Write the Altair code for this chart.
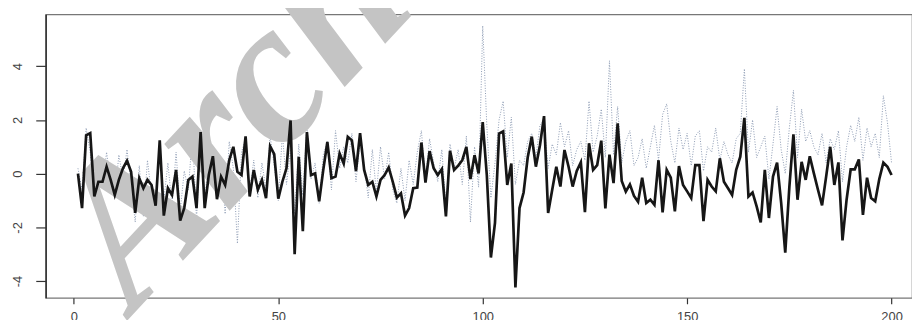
import altair as alt
import pandas as pd

t = list(range(1, 201))

series_a = [
    0.0, -1.28, 1.43, 1.51, -0.85, -0.3, -0.3, 0.26, -0.23, -0.79,
    -0.23, 0.2, 0.48, 0.07, -1.46, -0.17, -0.54, -0.23, -0.42, -1.19,
    1.24, -1.56, -0.54, -0.79, 0.14, -1.75, -1.28, -0.23, -0.11, -1.28,
    1.55, -1.28, -0.05, 0.65, -0.95, -0.11, -0.42, 0.5, 1.0, 0.07,
    -0.05, 1.39, -0.85, 0.14, -0.6, -0.23, -0.91, 1.02, 0.73, -0.93,
    -0.3, 0.2, 1.98, -3.0, 0.63, -2.14, 1.55, -0.05, 0.01, -1.03,
    0.14, 1.18, -0.17, -0.11, 0.75, 0.38, 1.37, 1.24, 0.1, 1.51,
    0.14, -0.42, -0.3, -0.85, -0.23, -0.05, 0.23, -0.3, -0.89, -0.73,
    -1.56, -1.28, -0.54, -0.52, 1.16, -0.33, 0.84, 0.2, -0.05, 0.17,
    -1.59, 0.85, 0.14, 0.3, 0.5, 1.0, -0.2, 0.69, 0.01, 1.92,
    -0.05, -3.12, -1.83, 1.49, 1.57, -0.42, 0.38, -4.23, -1.28, -0.7,
    0.6, 1.38, 0.26, 1.06, 2.14, -1.46, -0.6, 0.26, -0.48, 0.88,
    0.26, -0.48, 0.1, 0.42, -1.43, 1.13, 0.14, 0.32, 1.23, -1.29,
    0.71, -0.35, 1.87, -0.27, -0.67, -0.4, -0.83, -1.05, -0.15, -1.09,
    -0.97, -1.16, 0.5, -1.44, 0.14, -0.15, -1.4, 0.28, -0.42, -0.66,
    -0.91, 0.32, 0.32, -1.77, -0.23, -0.48, -0.66, 0.57, -0.3, -0.54,
    -0.79, 0.14, 0.63, 2.08, -0.85, -0.7, -1.22, -1.81, 0.14, -1.65,
    -0.11, 0.41, -1.09, -2.94, -0.5, 1.46, -0.97, 0.44, -0.23, 0.65,
    0.01, -0.6, -1.18, -0.11, 1.0, -0.42, 0.42, -2.48, -0.97, 0.16,
    0.16, 0.53, -1.53, -0.15, -0.91, -1.03, -0.2, 0.41, 0.26, -0.05,
]

series_b = [
    0.2, -0.6, 1.7, 0.8, -0.9, 0.6, -0.5, 0.8, -0.3, -0.9,
    0.7, -0.2, 0.9, -0.4, -1.8, 0.3, -1.6, 0.5, -0.8, -1.2,
    1.0, -1.0, 0.4, -1.2, 0.8, -1.4, 0.1, -0.6, 1.5, -1.7,
    1.3, -1.0, 0.6, 0.9, -0.8, 0.5, -1.5, 1.2, 0.2, -2.6,
    0.8, 1.3, -0.7, 0.5, -0.9, 0.4, -0.6, 1.4, 0.3, -1.0,
    1.5, -0.4, 0.9, -1.5, 1.1, -0.8, 1.8, -0.2, 0.4, -1.1,
    0.7, 1.2, -0.6, 1.6, 0.2, 1.0, 0.4, 1.5, -0.3, 1.2,
    0.3, -0.9, 0.9, -0.7, 1.0, -0.2, 0.8, -0.6, -1.1, 0.2,
    -1.0, 0.5, -0.4, 0.8, 1.6, -0.2, 1.3, 0.4, -0.3, 0.9,
    -1.2, 1.1, 0.2, 0.9, -0.4, 1.4, -1.8, 1.0, -0.5, 5.5,
    1.8, -0.9, 0.4, 2.0, 2.7, 0.6, 2.1, -0.4, 0.5, 0.3,
    1.2, 1.5, 0.6, 1.8, 2.0, 0.2, 1.1, 0.7, 1.9, 1.0,
    1.6, 0.3, 0.9, 1.2, 0.5, 2.7, 0.8, 1.4, 2.4, 0.6,
    4.2, 0.7, 2.5, 0.4, 1.2, 1.6, 0.3, 0.6, 1.3, 0.2,
    1.0, 1.8, 0.5, 2.2, 2.6, 1.2, 0.4, 1.7, 0.9, 1.5,
    0.3, 1.4, 1.6, 0.1, 1.0, 0.8, 1.7, 0.5, 1.2, 0.7,
    0.4, 1.3, 1.5, 3.9, 0.8, 2.0, 0.6, 1.0, 1.4, -0.2,
    1.1, 2.5, 0.9, 0.0, 1.7, 3.1, 0.6, 2.4, 1.2, 1.6,
    1.0, 0.7, 1.5, 0.4, 1.3, 0.9, 1.6, -0.3, 1.0, 1.8,
    1.2, 2.1, 0.5, 1.7, 1.0, 1.5, 0.6, 2.9, 1.9, 0.4,
]

x_ticks = [0, 50, 100, 150, 200]
y_ticks = [-4, -2, 0, 2, 4]
watermark = ["Archive"]

df = pd.DataFrame({"t": t, "a": series_a, "b": series_b})
wm_df = pd.DataFrame({"label": watermark})

x_scale = alt.Scale(domain=[-6.9, 205], nice=False, zero=False)
y_scale = alt.Scale(domain=[-4.62, 5.93], nice=False, zero=False)

x_axis = alt.Axis(
    values=x_ticks, title=None, grid=False, domain=False,
    tickSize=6, tickColor="#333", tickWidth=1.2,
    labelFont="Liberation Sans", labelFontSize=13, labelColor="#444",
    labelPadding=7, labelBaseline="top", labelFlush=False,
    labelExpr="'' + datum.value",
)
y_axis = alt.Axis(
    values=y_ticks, title=None, grid=False, domain=True,
    domainColor="#333", domainWidth=1.6,
    tickSize=10, tickColor="#333", tickWidth=1.2,
    labelFont="Liberation Sans", labelFontSize=13, labelColor="#444",
    labelAngle=270, labelAlign="center", labelBaseline="bottom",
    labelPadding=11, labelFlush=False,
    labelExpr="'' + datum.value",
)

dotted = alt.Chart(df).mark_line(
    color="#8d9bb3", strokeWidth=1, strokeDash=[1, 1.6]
).encode(
    x=alt.X("t:Q", scale=x_scale, axis=x_axis),
    y=alt.Y("b:Q", scale=y_scale, axis=y_axis),
)

wm = alt.Chart(wm_df).mark_text(
    font="Liberation Serif", fontStyle="italic", fontWeight="bold",
    fontSize=205, color="#c4c4c4", angle=313, align="left",
    baseline="middle",
).encode(
    text="label:N",
    x=alt.value(44),
    y=alt.value(259),
)

solid = alt.Chart(df).mark_line(
    color="#161616", strokeWidth=2.7
).encode(
    x=alt.X("t:Q", scale=x_scale, axis=x_axis),
    y=alt.Y("a:Q", scale=y_scale, axis=y_axis),
)

chart = alt.layer(dotted, wm, solid).properties(
    width=874, height=286,
    padding={"left": 38, "top": 5, "right": 0, "bottom": 21},
    autosize="none",
    background="white",
).configure_view(stroke="#777", strokeWidth=1.2)

chart.save("out.html", embed_options={"renderer": "svg", "actions": False})
